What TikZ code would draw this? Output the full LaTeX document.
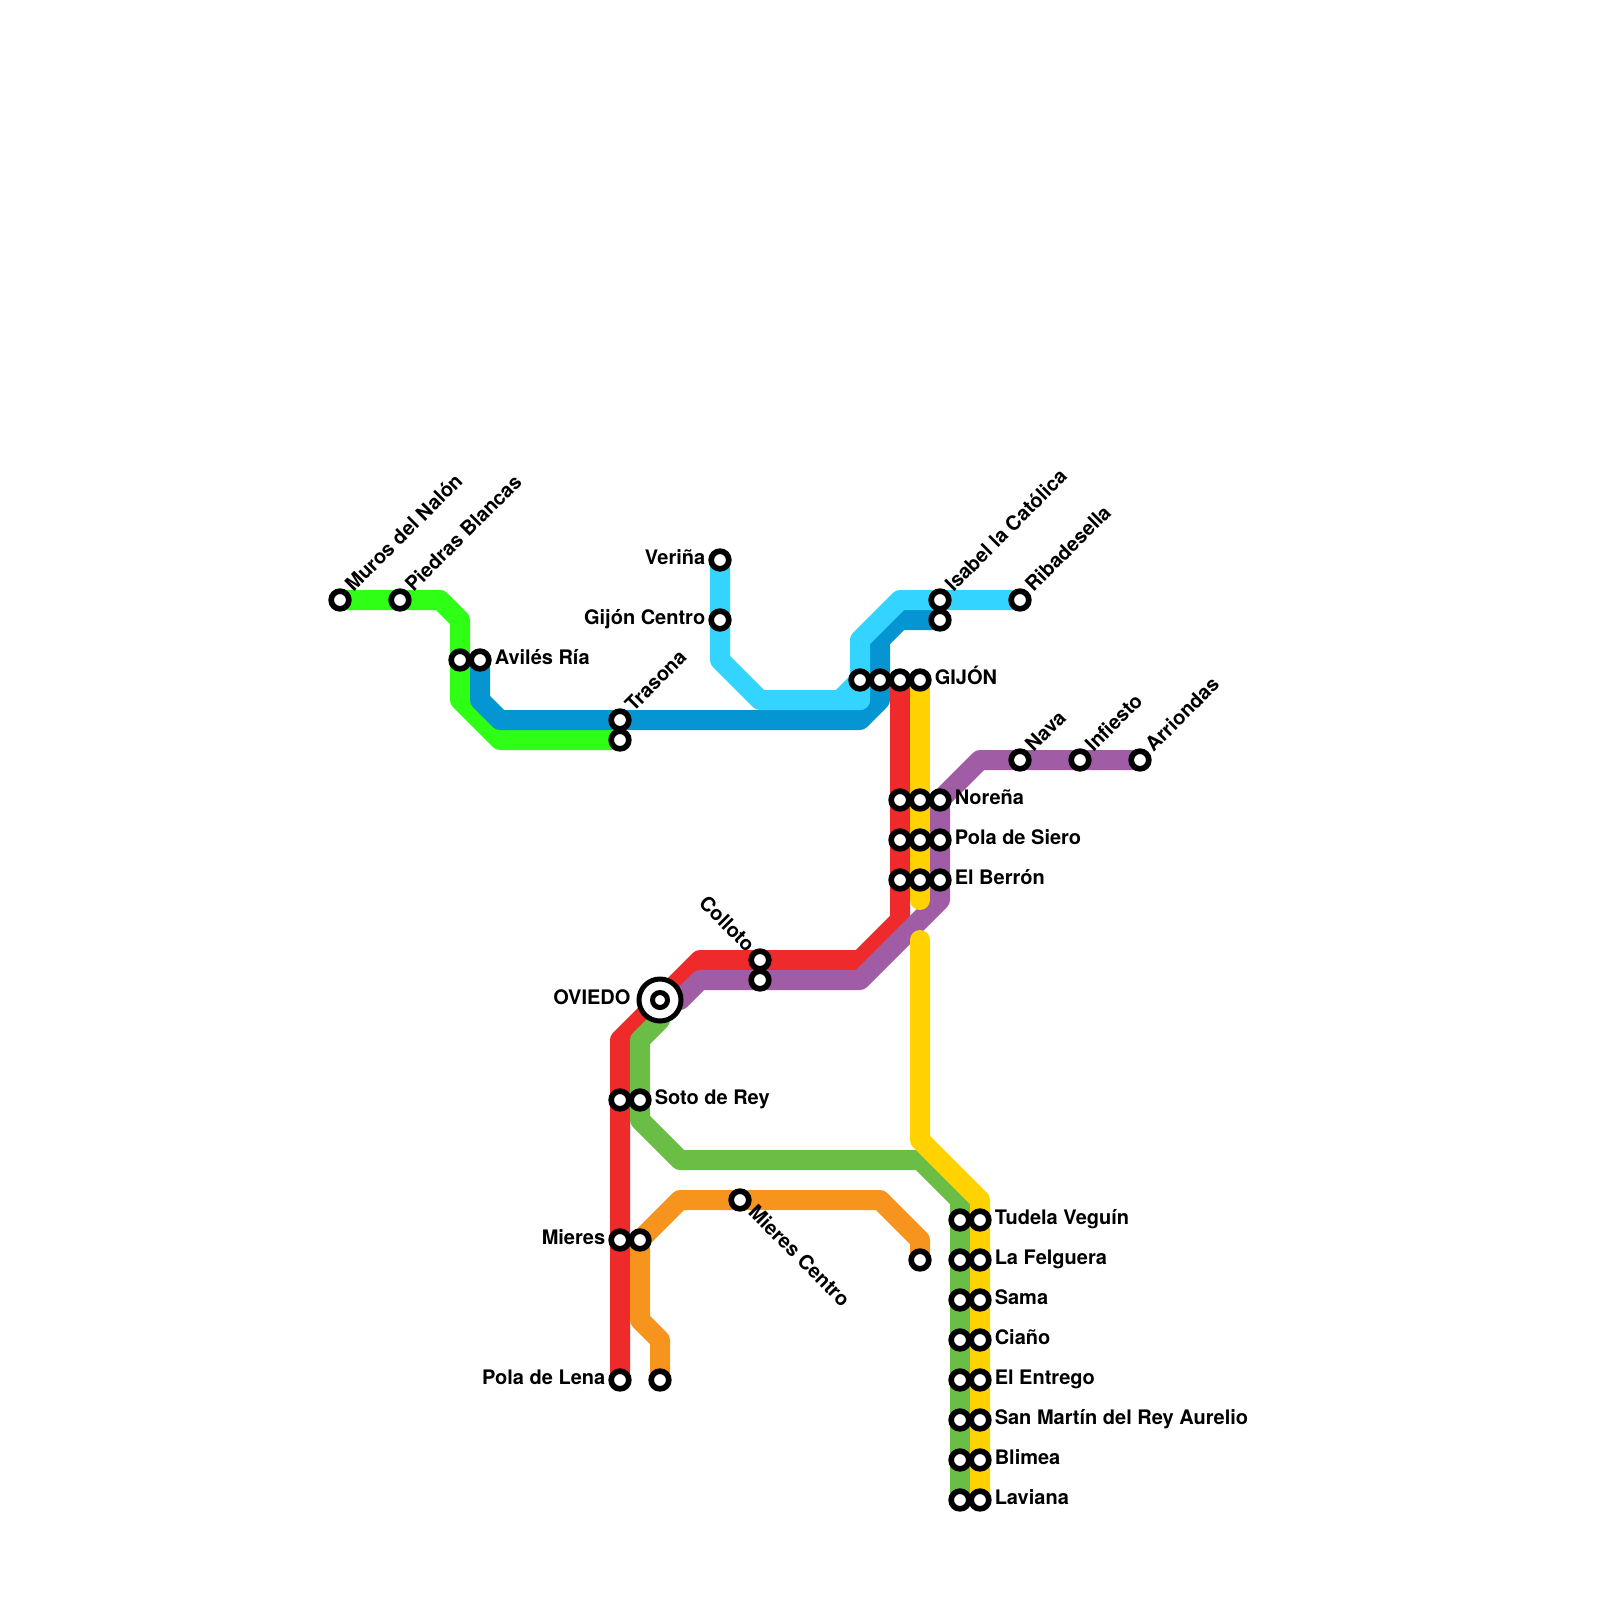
\documentclass[tikz,border=0pt]{standalone}
\usepackage{fontspec}
\setmainfont{TeX Gyre Heros}
\usetikzlibrary{backgrounds}
\definecolor{linelime}{HTML}{2EFF14}
\definecolor{linesky}{HTML}{33D4FF}
\definecolor{lineblue}{HTML}{0495D2}
\definecolor{linered}{HTML}{EE2A2A}
\definecolor{linepurple}{HTML}{A05CA5}
\definecolor{linegreen}{HTML}{6ABD45}
\definecolor{lineorange}{HTML}{F7941D}
\definecolor{lineyellow}{HTML}{FFD200}
\tikzset{
  railline/.style={line width=2mm, line join=round, line cap=round},
  stop/.style={circle, draw=black, fill=white, line width=0.567mm, minimum size=1.767mm, inner sep=0pt},
  hubring/.style={circle, draw=black, fill=white, line width=0.5mm, minimum size=4.2mm, inner sep=0pt},
  hubcore/.style={circle, draw=black, fill=white, line width=0.5mm, minimum size=1.5mm, inner sep=0pt},
  stoptext/.style={inner sep=0.24mm, text height=1.3mm, text depth=0.4mm, font=\fontsize{5.69pt}{6pt}\selectfont\bfseries},
  textright/.style={stoptext, anchor=west},
  textleft/.style={stoptext, anchor=east},
  textup/.style={stoptext, anchor=west, rotate=45},
  textdown/.style={stoptext, anchor=west, rotate=-45},
  textback/.style={stoptext, anchor=east, rotate=-45}
}
\begin{document}
\begin{tikzpicture}[x=0.2cm, y=-0.2cm]
  \useasboundingbox (0,0) rectangle (80,80);
  \node[stop] (muros) at (17,30) {};
  \node[stop] (piedras) at (20,30) {};
  \node[stop] (avilesA) at (23,33) {};
  \node[stop] (aviles) at (24,33) {};
  \node[stop] (trasona) at (31,36) {};
  \node[stop] (trasonaB) at (31,37) {};
  \node[stop] (verina) at (36,28) {};
  \node[stop] (gijonC) at (36,31) {};
  \node[stop] (gijonA) at (43,34) {};
  \node[stop] (gijonB) at (44,34) {};
  \node[stop] (gijonR) at (45,34) {};
  \node[stop] (gijon) at (46,34) {};
  \node[stop] (isabel) at (47,30) {};
  \node[stop] (isabelB) at (47,31) {};
  \node[stop] (ribadesella) at (51,30) {};
  \node[stop] (nava) at (51,38) {};
  \node[stop] (infiesto) at (54,38) {};
  \node[stop] (arriondas) at (57,38) {};
  \node[stop] (norenaR) at (45,40) {};
  \node[stop] (norenaY) at (46,40) {};
  \node[stop] (norena) at (47,40) {};
  \node[stop] (sieroR) at (45,42) {};
  \node[stop] (sieroY) at (46,42) {};
  \node[stop] (siero) at (47,42) {};
  \node[stop] (berronR) at (45,44) {};
  \node[stop] (berronY) at (46,44) {};
  \node[stop] (berron) at (47,44) {};
  \node[stop] (colloto) at (38,48) {};
  \node[stop] (collotoB) at (38,49) {};
  \node[hubring] (oviedo) at (33,50) {};
  \node[hubcore] (oviedoC) at (33,50) {};
  \node[stop] (sotoR) at (31,55) {};
  \node[stop] (soto) at (32,55) {};
  \node[stop] (mieres) at (31,62) {};
  \node[stop] (mieresB) at (32,62) {};
  \node[stop] (lena) at (31,69) {};
  \node[stop] (lenaB) at (33,69) {};
  \node[stop] (mcentro) at (37,60) {};
  \node[stop] (orangeend) at (46,63) {};
  \node[stop] (tudelaG) at (48,61) {};
  \node[stop] (tudela) at (49,61) {};
  \node[stop] (felgueraG) at (48,63) {};
  \node[stop] (felguera) at (49,63) {};
  \node[stop] (samaG) at (48,65) {};
  \node[stop] (sama) at (49,65) {};
  \node[stop] (cianoG) at (48,67) {};
  \node[stop] (ciano) at (49,67) {};
  \node[stop] (entregoG) at (48,69) {};
  \node[stop] (entrego) at (49,69) {};
  \node[stop] (martinG) at (48,71) {};
  \node[stop] (martin) at (49,71) {};
  \node[stop] (blimeaG) at (48,73) {};
  \node[stop] (blimea) at (49,73) {};
  \node[stop] (lavianaG) at (48,75) {};
  \node[stop] (laviana) at (49,75) {};
  \coordinate (skybend) at (42,35);
  \coordinate (skyend) at (43,35);
  \coordinate (yellowendA) at (46,45);
  \coordinate (yellowendB) at (46,47);

  \node[textup] (murostext) at (muros.45) {Muros del Nalón};
  \node[textup] (piedrastext) at (piedras.45) {Piedras Blancas};
  \node[textright] (avilestext) at (aviles.east) {Avilés Ría};
  \node[textup] (trasonatext) at (trasona.45) {Trasona};
  \node[textleft] (verinatext) at (verina.west) {Veriña};
  \node[textleft] (gijonCtext) at (gijonC.west) {Gijón Centro};
  \node[textright] (gijontext) at (gijon.east) {GIJÓN};
  \node[textup] (isabeltext) at (isabel.45) {Isabel la Católica};
  \node[textup] (ribadesellatext) at (ribadesella.45) {Ribadesella};
  \node[textup] (navatext) at (nava.45) {Nava};
  \node[textup] (infiestotext) at (infiesto.45) {Infiesto};
  \node[textup] (arriondastext) at (arriondas.45) {Arriondas};
  \node[textright] (norenatext) at (norena.east) {Noreña};
  \node[textright] (sierotext) at (siero.east) {Pola de Siero};
  \node[textright] (berrontext) at (berron.east) {El Berrón};
  \node[textback] (collototext) at (colloto.135) {Colloto};
  \node[textleft, inner sep=0.54mm] (oviedotext) at (oviedo.west) {OVIEDO};
  \node[textright] (sototext) at (soto.east) {Soto de Rey};
  \node[textleft] (mierestext) at (mieres.west) {Mieres};
  \node[textleft] (lenatext) at (lena.west) {Pola de Lena};
  \node[textdown] (mcentrotext) at (mcentro.-45) {Mieres Centro};
  \node[textright] (tudelatext) at (tudela.east) {Tudela Veguín};
  \node[textright] (felgueratext) at (felguera.east) {La Felguera};
  \node[textright] (samatext) at (sama.east) {Sama};
  \node[textright] (cianotext) at (ciano.east) {Ciaño};
  \node[textright] (entregotext) at (entrego.east) {El Entrego};
  \node[textright] (martintext) at (martin.east) {San Martín del Rey Aurelio};
  \node[textright] (blimeatext) at (blimea.east) {Blimea};
  \node[textright] (lavianatext) at (laviana.east) {Laviana};

  \begin{scope}[on background layer]
    \draw[railline, linelime] (muros.center) -- (22,30) -- (23,31) -- (23,35) -- (25,37) -- (trasonaB.center);
    \draw[railline, lineblue] (aviles.center) -- (24,35) -- (25,36) -- (43,36) -- (44,35) -- (44,32) -- (45,31) -- (isabelB.center);
    \draw[railline, linesky] (verina.center) -- (36,33) -- (38,35) -- (skyend);
    \draw[railline, linesky] (skybend) -- (gijonA.center);
    \draw[railline, linesky] (ribadesella.center) -- (45,30) -- (43,32) -- (skyend);
    \draw[railline, linered] (gijonR.center) -- (45,46) -- (43,48) -- (35,48) -- (31,52) -- (lena.center);
    \draw[railline, linepurple] (arriondas.center) -- (49,38) -- (47,40) -- (47,45) -- (43,49) -- (35,49) -- (34,50) -- (oviedo.center);
    \draw[railline, linegreen] (oviedo.center) -- (33,51) -- (32,52) -- (32,56) -- (34,58) -- (46,58) -- (48,60) -- (lavianaG.center);
    \draw[railline, lineorange] (orangeend.center) -- (46,62) -- (44,60) -- (34,60) -- (32,62) -- (32,66) -- (33,67) -- (lenaB.center);
    \draw[railline, lineyellow] (gijon.center) -- (yellowendA);
    \draw[railline, lineyellow] (yellowendB) -- (46,57) -- (49,60) -- (laviana.center);
  \end{scope}
\end{tikzpicture}
\end{document}
